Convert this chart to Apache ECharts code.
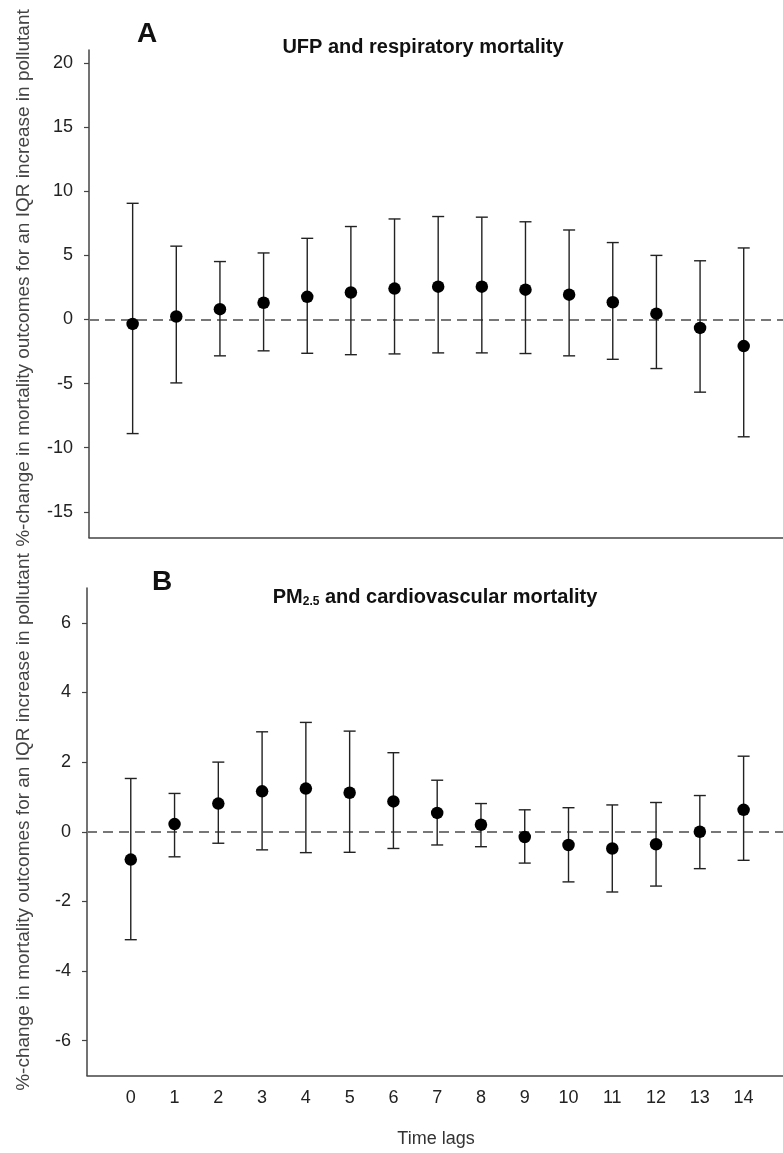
<!DOCTYPE html>
<html>
<head>
<meta charset="utf-8">
<script src="https://cdn.jsdelivr.net/npm/echarts@6/dist/echarts.min.js"></script>
<style>
  html, body { margin: 0; padding: 0; background: #fff; }
  #chart { width: 783px; height: 1153px; }
</style>
</head>
<body>
<div id="chart"></div>
<script>
// time lags (x)
var lags = [0, 1, 2, 3, 4, 5, 6, 7, 8, 9, 10, 11, 12, 13, 14]

// panel A: UFP and respiratory mortality
var ufpEst = [-0.35, 0.23, 0.8, 1.3, 1.76, 2.1, 2.4, 2.55, 2.55, 2.32, 1.93, 1.34, 0.45, -0.66, -2.08]
var ufpLow = [-8.9, -4.95, -2.84, -2.45, -2.64, -2.75, -2.69, -2.61, -2.61, -2.66, -2.84, -3.11, -3.83, -5.67, -9.15]
var ufpHigh = [9.05, 5.71, 4.51, 5.18, 6.32, 7.24, 7.83, 8.02, 7.97, 7.61, 6.97, 5.99, 4.99, 4.57, 5.57]

// panel B: PM2.5 and cardiovascular mortality
var pmEst = [-0.8, 0.22, 0.81, 1.16, 1.24, 1.12, 0.87, 0.54, 0.2, -0.15, -0.38, -0.48, -0.36, 0.0, 0.63]
var pmLow = [-3.1, -0.72, -0.33, -0.52, -0.6, -0.59, -0.48, -0.38, -0.43, -0.9, -1.44, -1.73, -1.56, -1.06, -0.82]
var pmHigh = [1.53, 1.1, 2.0, 2.87, 3.14, 2.89, 2.27, 1.48, 0.81, 0.63, 0.69, 0.77, 0.84, 1.04, 2.17]

var ticksA = [-15, -10, -5, 0, 5, 10, 15, 20]
var ticksB = [-6, -4, -2, 0, 2, 4, 6]

var yName = '%-change in mortality outcomes for an IQR increase in pollutant'
var axisColor = '#444'
var font = '"Liberation Sans", Arial, sans-serif'

function barData (low, high) {
  var out = []
  for (var i = 0; i < lags.length; i++) {
    out.push([lags[i], low[i], high[i]])
  }
  return out
}

function pointData (est) {
  return lags.map(function (l, i) { return [l, est[i]] })
}

function renderBar (params, api) {
  var lo = api.coord([api.value(0), api.value(1)])
  var hi = api.coord([api.value(0), api.value(2)])
  var w = 6
  var style = { stroke: '#222', lineWidth: 1.4 }
  return {
    type: 'group',
    children: [
      { type: 'line', shape: { x1: hi[0], y1: hi[1], x2: lo[0], y2: lo[1] }, style: style },
      { type: 'line', shape: { x1: hi[0] - w, y1: hi[1], x2: hi[0] + w, y2: hi[1] }, style: style },
      { type: 'line', shape: { x1: lo[0] - w, y1: lo[1], x2: lo[0] + w, y2: lo[1] }, style: style }
    ]
  }
}

function yAxisCfg (idx, min, max, ticks) {
  return {
    type: 'value',
    gridIndex: idx,
    min: min,
    max: max,
    splitLine: { show: false },
    axisLine: { show: true, onZero: false, lineStyle: { color: axisColor, width: 1.5 } },
    axisTick: { show: true, length: 5, customValues: ticks, lineStyle: { color: axisColor, width: 1.2 } },
    axisLabel: { customValues: ticks, color: '#222', fontSize: 18, fontFamily: font, margin: 16 }
  }
}

function xAxisCfg (idx, showLabels) {
  return {
    type: 'value',
    gridIndex: idx,
    min: -1,
    max: 14.9,
    splitLine: { show: false },
    axisLine: { show: true, onZero: false, lineStyle: { color: axisColor, width: 1.5 } },
    axisTick: { show: false, customValues: lags },
    axisLabel: { show: showLabels, customValues: lags, color: '#222', fontSize: 18, fontFamily: font, margin: 14 }
  }
}

function zeroLine () {
  return {
    silent: true,
    z: 1,
    symbol: 'none',
    label: { show: false },
    lineStyle: { color: '#777', width: 2.2, type: [10, 6] },
    data: [{ yAxis: 0 }]
  }
}

var chart = echarts.init(document.getElementById('chart'))
var option = {
  animation: false,
  backgroundColor: '#fff',
  grid: [
    { left: 89, right: 0, top: 50, height: 487.5 },
    { left: 87, right: 0, top: 588, height: 487.5 }
  ],
  xAxis: [xAxisCfg(0, false), xAxisCfg(1, true)],
  yAxis: [yAxisCfg(0, -17, 21, ticksA), yAxisCfg(1, -7, 7, ticksB)],
  series: [
    {
      type: 'custom', xAxisIndex: 0, yAxisIndex: 0,
      renderItem: renderBar, data: barData(ufpLow, ufpHigh), z: 3,
      markLine: zeroLine()
    },
    {
      type: 'scatter', xAxisIndex: 0, yAxisIndex: 0,
      data: pointData(ufpEst), symbolSize: 12.5,
      itemStyle: { color: '#000', opacity: 1 }, z: 4
    },
    {
      type: 'custom', xAxisIndex: 1, yAxisIndex: 1,
      renderItem: renderBar, data: barData(pmLow, pmHigh), z: 3,
      markLine: zeroLine()
    },
    {
      type: 'scatter', xAxisIndex: 1, yAxisIndex: 1,
      data: pointData(pmEst), symbolSize: 12.5,
      itemStyle: { color: '#000', opacity: 1 }, z: 4
    }
  ],
  graphic: [
    {
      type: 'text', x: 147, y: 34,
      style: { text: 'A', font: 'bold 28px ' + font, fill: '#111', align: 'center', verticalAlign: 'middle' }
    },
    {
      type: 'text', x: 423, y: 47,
      style: { text: 'UFP and respiratory mortality', font: 'bold 20px ' + font, fill: '#111', align: 'center', verticalAlign: 'middle' }
    },
    {
      type: 'text', x: 162, y: 582,
      style: { text: 'B', font: 'bold 28px ' + font, fill: '#111', align: 'center', verticalAlign: 'middle' }
    },
    {
      type: 'text', x: 435, y: 597,
      style: {
        text: 'PM{sub|2.5} and cardiovascular mortality',
        font: 'bold 20px ' + font, fill: '#111', align: 'center', verticalAlign: 'middle',
        rich: { sub: { font: 'bold 12px ' + font, fill: '#111', verticalAlign: 'bottom', padding: [10, 0, 0, 0] } }
      }
    },
    {
      type: 'text', x: 24, y: 278, rotation: Math.PI / 2,
      style: { text: yName, font: '19px ' + font, fill: '#444', align: 'center', verticalAlign: 'middle' }
    },
    {
      type: 'text', x: 24, y: 822, rotation: Math.PI / 2,
      style: { text: yName, font: '19px ' + font, fill: '#444', align: 'center', verticalAlign: 'middle' }
    },
    {
      type: 'text', x: 436, y: 1139,
      style: { text: 'Time lags', font: '18px ' + font, fill: '#333', align: 'center', verticalAlign: 'middle' }
    }
  ]
}
chart.setOption(option)
</script>
</body>
</html>
